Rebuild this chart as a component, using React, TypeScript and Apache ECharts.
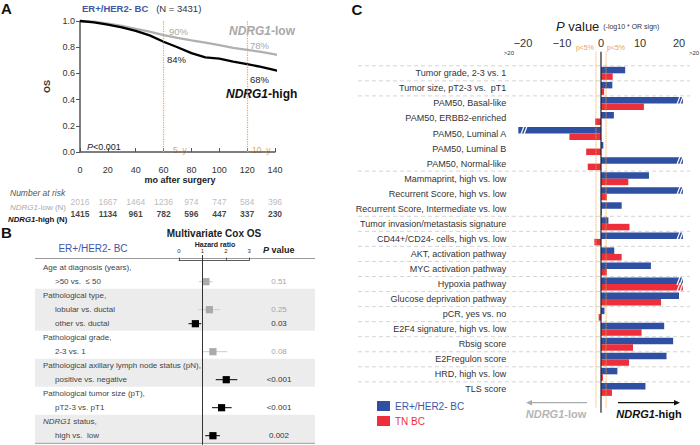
import React, { useEffect, useRef } from "react";
import * as echarts from "echarts";

const FONT = "'Liberation Sans', Arial, Helvetica, sans-serif";
const BLUE_TXT = "#3d58a6";
const ORANGE = "#e6a45c";
const GRAY = "#a9a9a9";
const BAR_BLUE = "#2f4fa2";
const BAR_RED = "#ec2f3b";

// ---------- Panel A : Kaplan-Meier OS ----------
const kmMonths = [0, 10, 20, 30, 40, 50, 60, 70, 80, 90, 100, 110, 120, 130, 140, 150, 157];
const kmLow = [1.0, 0.995, 0.98, 0.962, 0.94, 0.918, 0.893, 0.872, 0.852, 0.835, 0.815, 0.795, 0.78, 0.765, 0.745, 0.72, 0.7];
const kmHigh = [1.0, 0.99, 0.972, 0.952, 0.925, 0.89, 0.842, 0.8, 0.755, 0.722, 0.712, 0.69, 0.67, 0.65, 0.625, 0.6, 0.59];
const landmarkMonths = [60, 120];
const riskMonths = [0, 20, 40, 60, 80, 100, 120, 140];
const riskLow = [2016, 1667, 1464, 1236, 974, 747, 584, 396];
const riskHigh = [1415, 1134, 961, 782, 596, 447, 337, 230];

// ---------- Panel B : multivariate Cox ----------
const coxLabels = [
  "Age at diagnosis (years),",
  ">50 vs.  \u2264 50",
  "Pathological type,",
  "lobular vs. ductal",
  "other vs. ductal",
  "Pathological grade,",
  "2-3 vs. 1",
  "Pathological axillary lymph node status (pN),",
  "positive vs. negative",
  "Pathological tumor size (pT),",
  "pT2-3 vs. pT1",
  "NDRG1 status,",
  "high vs.  low",
];
const coxIndent = [0, 1, 0, 1, 1, 0, 1, 0, 1, 0, 1, 0, 1];
const coxShaded = [[2, 3], [7, 2], [11, 2]]; // [first line, count]
const coxRow = [1, 3, 4, 6, 8, 10, 12];
const coxHR = [1.15, 1.3, 0.7, 1.45, 2.02, 1.82, 1.45];
const coxLo = [0.85, 0.82, 0.41, 1.01, 1.57, 1.41, 1.12];
const coxHi = [1.44, 1.75, 0.95, 2.06, 2.49, 2.25, 1.75];
const coxP = ["0.51", "0.25", "0.03", "0.08", "<0.001", "<0.001", "0.002"];
const coxSig = [0, 0, 1, 0, 1, 1, 1];

// ---------- Panel C : P value bars ----------
const cCats = [
  "Tumor grade, 2-3 vs. 1",
  "Tumor size, pT2-3 vs.  pT1",
  "PAM50, Basal-like",
  "PAM50, ERBB2-enriched",
  "PAM50, Luminal A",
  "PAM50, Luminal B",
  "PAM50, Normal-like",
  "Mammaprint, high vs. low",
  "Recurrent Score, high vs. low",
  "Recurrent Score, Intermediate vs. low",
  "Tumor invasion/metastasis signature",
  "CD44+/CD24- cells, high vs. low",
  "AKT, activation pathway",
  "MYC activation pathway",
  "Hypoxia pathway",
  "Glucose deprivation pathway",
  "pCR, yes vs. no",
  "E2F4 signature, high vs. low",
  "Rbsig score",
  "E2Fregulon score",
  "HRD, high vs. low",
  "TLS score",
];
// values beyond +/-20 are drawn truncated (shown with a break)
const erVals = [6.2, 2.9, 21, 3.3, -21.2, 0.6, 21, 12.3, 21, 5.3, 1.9, 21, 3.4, 12.8, 21, 20.0, 0.9, 16.2, 18.5, 16.8, 4.2, 11.4];
const tnVals = [3.0, 0.8, 11.0, -1.5, -8.1, -3.8, -3.4, 7.0, 1.5, 0.2, 7.3, -1.7, 5.3, 1.5, 21, 15.4, -0.6, 10.4, 8.2, 7.2, 0.5, 2.8];
const cTicks = [-20, -10, 0, 10, 20];
const pThreshold = 1.301; // -log10(0.05)
const cSeparatorsAfter = [-1, 0, 1, 6, 9, 10, 11, 12, 13, 14, 15, 16, 17, 18, 19, 20];

// layout constants
const B_TOP = 260.7;
const B_LINE = 14;
const C_TOP = 65.8;
const C_ROW = 15.05;

function buildGraphic() {
  const g: any[] = [];
  const txt = (x: number, y: number, text: string, o: any = {}) =>
    g.push({
      type: "text",
      x,
      y,
      silent: true,
      style: {
        text,
        fill: o.fill || "#333",
        fontSize: o.size || 9,
        fontFamily: FONT,
        fontWeight: o.weight || "normal",
        fontStyle: o.style || "normal",
        align: o.align || "left",
        verticalAlign: "middle",
        textAlign: o.align || "left",
        textVerticalAlign: "middle",
        rich: o.rich,
      },
    });
  const line = (x1: number, y1: number, x2: number, y2: number, stroke: string, w = 1, dash?: number[]) =>
    g.push({ type: "line", silent: true, shape: { x1, y1, x2, y2 }, style: { stroke, lineWidth: w, lineDash: dash } });

  // ---- A ----
  txt(1, 8, "A", { size: 15, weight: "bold", fill: "#111" });
  txt(82, 8, "{b|ER+/HER2- BC}{n|   (N = 3431)}", {
    rich: {
      b: { fontSize: 9.5, fontWeight: "bold", fill: BLUE_TXT, fontFamily: FONT },
      n: { fontSize: 9.5, fill: "#333", fontFamily: FONT },
    },
  });
  txt(169, 31, "90%", { fill: GRAY, size: 9.5 });
  txt(167, 59, "84%", { fill: "#222", size: 9.5 });
  txt(250, 45, "78%", { fill: GRAY, size: 9.5 });
  txt(250, 79, "68%", { fill: "#222", size: 9.5 });
  txt(229, 31, "{i|NDRG1}{n|-low}", {
    rich: {
      i: { fontSize: 12, fontWeight: "bold", fontStyle: "italic", fill: GRAY, fontFamily: FONT },
      n: { fontSize: 12, fontWeight: "bold", fill: GRAY, fontFamily: FONT },
    },
  });
  txt(226, 94, "{i|NDRG1}{n|-high}", {
    rich: {
      i: { fontSize: 12, fontWeight: "bold", fontStyle: "italic", fill: "#111", fontFamily: FONT },
      n: { fontSize: 12, fontWeight: "bold", fill: "#111", fontFamily: FONT },
    },
  });
  txt(87, 147, "{i|P}{n|<0.001}", {
    rich: {
      i: { fontSize: 9, fontStyle: "italic", fill: "#222", fontFamily: FONT },
      n: { fontSize: 9, fill: "#222", fontFamily: FONT },
    },
  });
  txt(173, 150, "5  y", { fill: ORANGE, size: 8.5 });
  txt(252, 150, "10  y", { fill: ORANGE, size: 8.5 });
  txt(180, 180, "mo after surgery", { weight: "bold", align: "center", size: 9, fill: "#222" });
  txt(10, 193, "Number at risk", { style: "italic", fill: "#555", size: 8.5 });
  txt(10, 207.5, "{i|NDRG1}{n|-low (N)}", {
    rich: {
      i: { fontSize: 8, fontStyle: "italic", fill: GRAY, fontFamily: FONT },
      n: { fontSize: 8, fill: GRAY, fontFamily: FONT },
    },
  });
  txt(8, 219.5, "{i|NDRG1}{n|-high (N)}", {
    rich: {
      i: { fontSize: 7.8, fontStyle: "italic", fontWeight: "bold", fill: "#111", fontFamily: FONT },
      n: { fontSize: 7.8, fontWeight: "bold", fill: "#111", fontFamily: FONT },
    },
  });

  // ---- B ----
  txt(1, 232, "B", { size: 15, weight: "bold", fill: "#111" });
  for (const [start, n] of coxShaded) {
    g.push({
      type: "rect",
      silent: true,
      z: -1,
      shape: { x: 35, y: B_TOP + start * B_LINE, width: 280, height: n * B_LINE },
      style: { fill: "#ececec" },
    });
  }
  txt(214, 233.5, "Multivariate Cox OS", { weight: "bold", align: "center", size: 10, fill: "#222" });
  txt(93, 248.5, "ER+/HER2- BC", { align: "center", size: 10, fill: BLUE_TXT });
  txt(215, 244.5, "Hazard ratio", { weight: "bold", align: "center", size: 7, fill: "#222" });
  txt(263, 249.5, "{i|P}{n| value}", {
    rich: {
      i: { fontSize: 9, fontStyle: "italic", fontWeight: "bold", fill: "#222", fontFamily: FONT },
      n: { fontSize: 9, fontWeight: "bold", fill: "#222", fontFamily: FONT },
    },
  });
  line(35, 258.5, 315, 258.5, "#9a9a9a", 1);
  line(35, 443.3, 315, 443.3, "#9a9a9a", 1);
  coxLabels.forEach((s, i) => {
    const y = B_TOP + B_LINE * (i + 0.5);
    const x = coxIndent[i] ? 55 : 43;
    if (s.startsWith("NDRG1")) {
      txt(x, y, "{i|NDRG1}{n|" + s.slice(5) + "}", {
        rich: {
          i: { fontSize: 8, fontStyle: "italic", fill: "#444", fontFamily: FONT },
          n: { fontSize: 8, fill: "#444", fontFamily: FONT },
        },
      });
    } else {
      txt(x, y, s, { size: 8, fill: "#444" });
    }
  });
  coxP.forEach((p, i) => {
    const y = B_TOP + B_LINE * (coxRow[i] + 0.5);
    txt(279, y, p, { align: "center", size: 8, fill: coxSig[i] ? "#333" : "#a5a5a5" });
  });

  // ---- C ----
  txt(357, 9, "C", { size: 15, weight: "bold", fill: "#111", align: "center" });
  txt(556, 26, "{i|P}{n| value}{s|  (-log10 * OR sign)}", {
    rich: {
      i: { fontSize: 13, fontStyle: "italic", fill: "#222", fontFamily: FONT },
      n: { fontSize: 13, fill: "#222", fontFamily: FONT },
      s: { fontSize: 7, fill: "#333", fontFamily: FONT },
    },
  });
  txt(594, 47.5, "p<5%", { align: "right", size: 7, fill: ORANGE });
  txt(607, 47.5, "p<5%", { align: "left", size: 7, fill: ORANGE });
  txt(514, 53, ">20", { align: "right", size: 6, fill: "#333" });
  txt(689, 53, ">20", { align: "left", size: 6, fill: "#333" });
  for (const k of cSeparatorsAfter) {
    const y = C_TOP + (k + 1) * C_ROW;
    line(358, y, 690, y, "#c9c9c9", 0.8, [4, 3]);
  }
  // direction arrows
  line(587, 402.7, 531, 402.7, "#aaaaaa", 1.2);
  g.push({ type: "polygon", silent: true, shape: { points: [[526, 402.7], [532, 400], [532, 405.4]] }, style: { fill: "#aaaaaa" } });
  line(618, 402.7, 675, 402.7, "#111", 1.2);
  g.push({ type: "polygon", silent: true, shape: { points: [[680, 402.7], [674, 400], [674, 405.4]] }, style: { fill: "#111" } });
  txt(556, 413.5, "{i|NDRG1}{n|-low}", {
    align: "center",
    rich: {
      i: { fontSize: 11, fontWeight: "bold", fontStyle: "italic", fill: "#b5b5b5", fontFamily: FONT },
      n: { fontSize: 11, fontWeight: "bold", fill: "#b5b5b5", fontFamily: FONT },
    },
  });
  txt(649, 413.5, "{i|NDRG1}{n|-high}", {
    align: "center",
    rich: {
      i: { fontSize: 11, fontWeight: "bold", fontStyle: "italic", fill: "#111", fontFamily: FONT },
      n: { fontSize: 11, fontWeight: "bold", fill: "#111", fontFamily: FONT },
    },
  });
  return g;
}

export default function App() {
  const ref = useRef<HTMLDivElement>(null);
  useEffect(() => {
    document.body.style.margin = "0";
    if (!ref.current) return;
    const chart = echarts.init(ref.current, undefined, { renderer: "svg" });

    const breaks: any[] = [];
    erVals.forEach((v, i) => { if (Math.abs(v) > 20) breaks.push([Math.sign(v) * 20, i, -1]); });
    tnVals.forEach((v, i) => { if (Math.abs(v) > 20) breaks.push([Math.sign(v) * 20, i, 1]); });

    const option: any = {
      animation: false,
      textStyle: { fontFamily: FONT },
      grid: [
        { left: 80, top: 21, width: 195, height: 131 },
        { left: 80, top: 195.5, width: 195, height: 24 },
        { left: 179, top: 255.1, width: 70.2, height: 189.7 },
        { left: 515.2, top: C_TOP, width: 171.6, height: 22 * C_ROW },
        { left: 515.2, top: 51.7, width: 171.6, height: 361 },
      ],
      xAxis: [
        {
          gridIndex: 0, type: "value", min: 0, max: 140, interval: 20, offset: 10,
          axisLine: { lineStyle: { color: "#555", width: 1.5 } },
          axisTick: { inside: true, length: 4, lineStyle: { color: "#555" } },
          axisLabel: { fontSize: 9, color: "#333", margin: 3 },
          splitLine: { show: false },
        },
        { gridIndex: 1, type: "value", min: 0, max: 140, show: false },
        {
          gridIndex: 2, type: "value", min: 0, max: 3, interval: 1, position: "top",
          axisLine: { lineStyle: { color: "#333", width: 0.8 } },
          axisTick: { length: 3, lineStyle: { color: "#333", width: 0.8 } },
          axisLabel: { fontSize: 6, color: "#333", margin: 1 },
          splitLine: { show: false },
        },
        {
          gridIndex: 3, type: "value", min: -22, max: 22, position: "top", offset: C_TOP - 51.7,
          axisLine: { lineStyle: { color: "#333", width: 1 } },
          axisTick: { customValues: cTicks, length: 3, lineStyle: { color: "#333" } },
          axisLabel: {
            customValues: cTicks, fontSize: 11, color: "#333", margin: 3,
            formatter: (v: number) => (v < 0 ? "\u2212" + Math.abs(v) : String(v)),
          },
          splitLine: { show: false },
        },
        { gridIndex: 4, type: "value", min: -22, max: 22, show: false },
      ],
      yAxis: [
        {
          gridIndex: 0, type: "value", min: 0, max: 1, interval: 0.2,
          name: "OS", nameLocation: "middle", nameGap: 29, nameRotate: 90,
          nameTextStyle: { fontSize: 9, fontWeight: "bold", color: "#333" },
          axisLine: { show: true, lineStyle: { color: "#555", width: 1.5 } },
          axisTick: { show: true, length: 4, lineStyle: { color: "#555" } },
          axisLabel: { fontSize: 9, color: "#333", margin: 5, formatter: (v: number) => v.toFixed(1) },
          splitLine: { show: false },
        },
        { gridIndex: 1, type: "value", min: 0, max: 2, inverse: true, show: false },
        { gridIndex: 2, type: "value", min: -0.4, max: 13.15, inverse: true, show: false },
        {
          gridIndex: 3, type: "category", data: cCats, inverse: true,
          axisLine: { show: false }, axisTick: { show: false },
          axisLabel: { fontSize: 9, color: "#333", margin: 9 },
        },
        { gridIndex: 4, type: "value", min: 0, max: 1, inverse: true, show: false },
      ],
      legend: {
        orient: "vertical", left: 377, top: 401, padding: 0,
        itemWidth: 13, itemHeight: 10, itemGap: 5, icon: "rect",
        textStyle: { fontSize: 10, fontFamily: FONT },
        data: [
          { name: "ER+/HER2- BC", textStyle: { color: BLUE_TXT } },
          { name: "TN BC", textStyle: { color: BAR_RED } },
        ],
      },
      graphic: buildGraphic(),
      series: [
        {
          name: "NDRG1-low", type: "line", xAxisIndex: 0, yAxisIndex: 0, clip: false,
          data: kmMonths.map((m, i) => [m, kmLow[i]]), showSymbol: false,
          lineStyle: { color: "#b0b0b0", width: 2.3 },
          markLine: {
            silent: true, symbol: ["none", "none"], label: { show: false },
            lineStyle: { type: "dotted", color: ORANGE, width: 1.2 },
            data: landmarkMonths.map((m) => ({ xAxis: m })),
          },
        },
        {
          name: "NDRG1-high", type: "line", xAxisIndex: 0, yAxisIndex: 0, clip: false,
          data: kmMonths.map((m, i) => [m, kmHigh[i]]), showSymbol: false,
          lineStyle: { color: "#000", width: 2.3 },
        },
        {
          type: "scatter", xAxisIndex: 1, yAxisIndex: 1, symbolSize: 1,
          itemStyle: { color: "rgba(0,0,0,0)" },
          data: riskMonths.map((m, i) => [m, 0.5, riskLow[i]]),
          label: { show: true, position: "inside", fontSize: 8.5, color: GRAY, formatter: (p: any) => String(p.value[2]) },
        },
        {
          type: "scatter", xAxisIndex: 1, yAxisIndex: 1, symbolSize: 1,
          itemStyle: { color: "rgba(0,0,0,0)" },
          data: riskMonths.map((m, i) => [m, 1.5, riskHigh[i]]),
          label: { show: true, position: "inside", fontSize: 8.5, fontWeight: "bold", color: "#111", formatter: (p: any) => String(p.value[2]) },
        },
        {
          type: "custom", xAxisIndex: 2, yAxisIndex: 2, clip: false,
          data: coxHR.map((h, i) => [h, coxRow[i] + 0.5, coxLo[i], coxHi[i], coxSig[i]]),
          encode: { x: [0, 2, 3], y: 1 },
          renderItem: (_p: any, api: any) => {
            const y = api.value(1);
            const c = api.coord([api.value(0), y]);
            const lo = api.coord([api.value(2), y]);
            const hi = api.coord([api.value(3), y]);
            const sig = api.value(4);
            return {
              type: "group",
              children: [
                { type: "line", shape: { x1: lo[0], y1: lo[1], x2: hi[0], y2: hi[1] }, style: { stroke: sig ? "#000" : "#cccccc", lineWidth: 1 } },
                { type: "rect", shape: { x: c[0] - 3.6, y: c[1] - 3.6, width: 7.2, height: 7.2 }, style: { fill: sig ? "#000" : "#aaaaaa" } },
              ],
            };
          },
          markLine: {
            silent: true, symbol: ["none", "none"], label: { show: false },
            lineStyle: { type: "solid", color: "#333", width: 1 },
            data: [{ xAxis: 1 }],
          },
        },
        {
          name: "ER+/HER2- BC", type: "bar", xAxisIndex: 3, yAxisIndex: 3,
          data: erVals, barWidth: 6.5, barGap: "0%", itemStyle: { color: BAR_BLUE },
        },
        {
          name: "TN BC", type: "bar", xAxisIndex: 3, yAxisIndex: 3,
          data: tnVals, barWidth: 6.5, barGap: "0%", itemStyle: { color: BAR_RED },
        },
        {
          type: "custom", xAxisIndex: 3, yAxisIndex: 3, z: 5,
          data: breaks, encode: { x: 0, y: 1 },
          renderItem: (_p: any, api: any) => {
            const p = api.coord([api.value(0), api.value(1)]);
            const yc = p[1] + api.value(2) * 3.25;
            const mk = (dx: number) => ({
              type: "line",
              shape: { x1: p[0] + dx - 1.6, y1: yc + 4.2, x2: p[0] + dx + 1.6, y2: yc - 4.2 },
              style: { stroke: "#fff", lineWidth: 1.2 },
            });
            return { type: "group", children: [mk(-0.5), mk(2.5)] };
          },
        },
        {
          type: "line", xAxisIndex: 4, yAxisIndex: 4, z: 6, showSymbol: false, silent: true,
          data: [[0, 0], [0, 1]], lineStyle: { color: "#222", width: 1.2 },
        },
        {
          type: "line", xAxisIndex: 4, yAxisIndex: 4, z: 6, showSymbol: false, silent: true,
          data: [[-pThreshold, 0], [-pThreshold, 0.987]], lineStyle: { color: ORANGE, width: 1, type: "dotted" },
        },
        {
          type: "line", xAxisIndex: 4, yAxisIndex: 4, z: 6, showSymbol: false, silent: true,
          data: [[pThreshold, 0], [pThreshold, 0.987]], lineStyle: { color: ORANGE, width: 1, type: "dotted" },
        },
      ],
    };
    chart.setOption(option);
    return () => chart.dispose();
  }, []);
  return <div ref={ref} style={{ width: 700, height: 445 }} />;
}
